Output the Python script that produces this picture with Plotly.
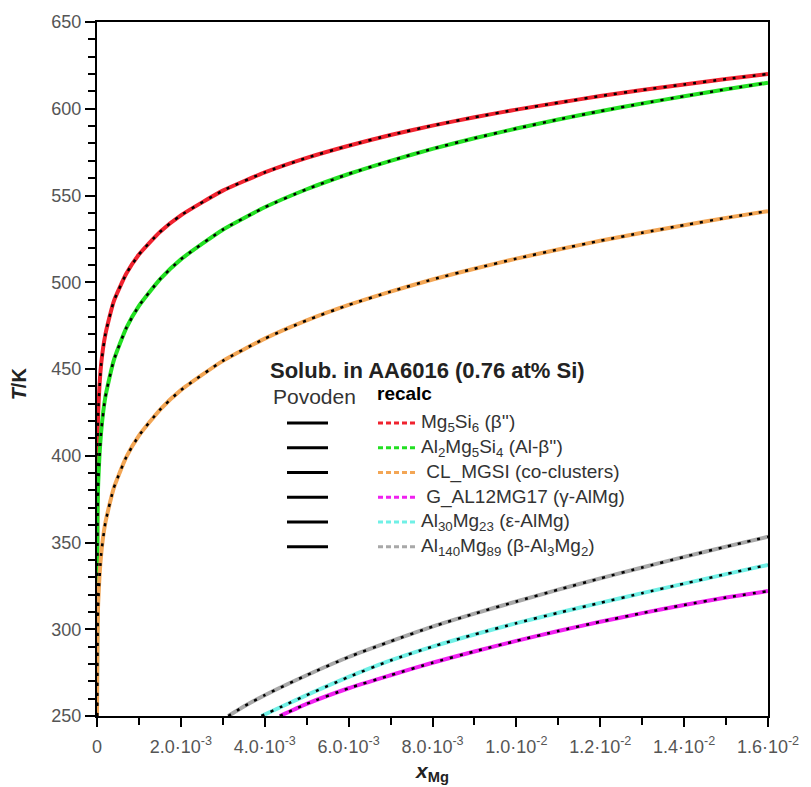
import plotly.graph_objects as go

# ---------------- data (read/estimated from the reference) ----------------
mg5si6_x = [0, 1e-5, 3e-5, 1e-4, 2e-4, 4e-4, 7e-4, 1e-3, 1.5e-3, 2e-3, 3e-3, 4e-3, 5e-3,
            6e-3, 7e-3, 8e-3, 9e-3, 1e-2, 1.1e-2, 1.2e-2, 1.3e-2, 1.4e-2, 1.5e-2, 1.6e-2]
mg5si6_T = [250, 404, 426, 453, 470, 489, 505, 516, 529, 538.6, 552.8, 563.3, 571.7,
            578.7, 584.9, 590.3, 595.1, 599.5, 603.5, 607.3, 610.8, 614, 617.1, 620]

al2mg5si4_x = [0, 1e-5, 3e-5, 1e-4, 2e-4, 4e-4, 7e-4, 1e-3, 1.5e-3, 2e-3, 3e-3, 4e-3, 5e-3,
               6e-3, 7e-3, 8e-3, 9e-3, 1e-2, 1.1e-2, 1.2e-2, 1.3e-2, 1.4e-2, 1.5e-2, 1.6e-2]
al2mg5si4_T = [250, 361, 385, 414, 434, 455, 473.7, 486.4, 501.7, 513.2, 530.3, 543.2, 553.6,
               562.4, 570, 576.9, 583, 588.6, 593.8, 598.6, 603, 607.2, 611.2, 615]

clmgsi_x = [0, 1e-6, 3e-6, 1e-5, 3e-5, 1e-4, 2e-4, 4e-4, 7e-4, 1e-3, 1.5e-3, 2e-3, 3e-3, 4e-3,
            5e-3, 6e-3, 7e-3, 8e-3, 9e-3, 1e-2, 1.1e-2, 1.2e-2, 1.3e-2, 1.4e-2, 1.5e-2, 1.6e-2]
clmgsi_T = [250, 258, 274, 294.5, 316, 343.4, 361.4, 381.4, 399.3, 411.6, 426.5, 437.8, 454.7, 467.5,
            478, 486.9, 494.6, 501.6, 507.8, 513.6, 518.9, 523.9, 528.5, 532.9, 537.1, 541]

gal12mg17_x = [4.36e-3, 5e-3, 6e-3, 7e-3, 8e-3, 9e-3, 1e-2, 1.1e-2, 1.2e-2, 1.3e-2, 1.4e-2, 1.5e-2, 1.6e-2]
gal12mg17_T = [250, 257, 266, 273.5, 280.7, 287.2, 293.3, 299, 304.3, 309.3, 314, 318.3, 322]

al30mg23_x = [3.92e-3, 4.5e-3, 5e-3, 6e-3, 7e-3, 8e-3, 9e-3, 1e-2, 1.1e-2, 1.2e-2, 1.3e-2, 1.4e-2, 1.5e-2, 1.6e-2]
al30mg23_T = [250, 256.5, 262, 272.5, 282, 290, 297, 303.5, 309.5, 315.2, 320.8, 326.3, 331.8, 337.1]

al140mg89_x = [3.13e-3, 3.5e-3, 4e-3, 5e-3, 6e-3, 7e-3, 8e-3, 9e-3, 1e-2, 1.1e-2, 1.2e-2, 1.3e-2, 1.4e-2, 1.5e-2, 1.6e-2]
al140mg89_T = [250, 255.5, 262, 273.5, 284, 293, 301.5, 309, 316, 322.8, 329.3, 335.6, 341.7, 347.6, 353.3]

x_tickvals = [0, 0.002, 0.004, 0.006, 0.008, 0.010, 0.012, 0.014, 0.016]
x_ticktext = ["0", "2.0·10<sup>-3</sup>", "4.0·10<sup>-3</sup>", "6.0·10<sup>-3</sup>",
              "8.0·10<sup>-3</sup>", "1.0·10<sup>-2</sup>", "1.2·10<sup>-2</sup>",
              "1.4·10<sup>-2</sup>", "1.6·10<sup>-2</sup>"]

legend_labels = ["Mg<sub>5</sub>Si<sub>6</sub> (β'')",
                 "Al<sub>2</sub>Mg<sub>5</sub>Si<sub>4</sub> (Al-β'')",
                 " CL_MGSI (co-clusters)",
                 " G_AL12MG17 (γ-AlMg)",
                 "Al<sub>30</sub>Mg<sub>23</sub> (ε-AlMg)",
                 "Al<sub>140</sub>Mg<sub>89</sub> (β-Al<sub>3</sub>Mg<sub>2</sub>)"]

series = [
    (mg5si6_x, mg5si6_T, "#f0222e"),
    (al2mg5si4_x, al2mg5si4_T, "#22e022"),
    (clmgsi_x, clmgsi_T, "#f3a655"),
    (gal12mg17_x, gal12mg17_T, "#f020f0"),
    (al30mg23_x, al30mg23_T, "#70f0e6"),
    (al140mg89_x, al140mg89_T, "#a8a8a8"),
]

FONT = "Liberation Sans"

fig = go.Figure()
# recalc (coloured)
for (xs, ts, col), lab in zip(series, legend_labels):
    fig.add_trace(go.Scatter(x=xs, y=ts, mode="lines", name=lab, showlegend=False,
                             line=dict(color=col, width=4, shape="spline", smoothing=0.5)))
# Povoden (black dotted on top)
for (xs, ts, col), lab in zip(series, legend_labels):
    fig.add_trace(go.Scatter(x=xs, y=ts, mode="lines", name="Povoden " + lab, showlegend=False,
                             line=dict(color="black", width=2.5, dash="3px,7px",
                                       shape="spline", smoothing=0.5)))

# ---------------- custom legend ----------------
def px2paper_x(px):
    return (px - 97) / 671.0

def py2paper_y(py):
    return (716 - py) / 701.0

shapes = []
annotations = []
annotations.append(dict(x=px2paper_x(268), y=py2paper_y(367), xref="paper", yref="paper",
                        xanchor="left", yanchor="middle", showarrow=False,
                        text="<b>Solub. in AA6016 (0.76 at% Si)</b>",
                        font=dict(size=22, color="#222", family=FONT)))
annotations.append(dict(x=px2paper_x(271), y=py2paper_y(393), xref="paper", yref="paper",
                        xanchor="left", yanchor="middle", showarrow=False,
                        text="Povoden", font=dict(size=21, color="#333", family=FONT)))
annotations.append(dict(x=px2paper_x(375), y=py2paper_y(390), xref="paper", yref="paper",
                        xanchor="left", yanchor="middle", showarrow=False,
                        text="<b>recalc</b>", font=dict(size=19, color="#000", family=FONT)))
row_y = [420, 445, 470, 495, 520, 545]
for (xs, ts, col), lab, ry in zip(series, legend_labels, row_y):
    yp = py2paper_y(ry)
    shapes.append(dict(type="line", xref="paper", yref="paper",
                       x0=px2paper_x(287), x1=px2paper_x(328), y0=yp, y1=yp,
                       line=dict(color="black", width=3)))
    shapes.append(dict(type="line", xref="paper", yref="paper",
                       x0=px2paper_x(378), x1=px2paper_x(416), y0=yp, y1=yp,
                       line=dict(color=col, width=3, dash="5px,3px")))
    annotations.append(dict(x=px2paper_x(419), y=yp, xref="paper", yref="paper",
                            xanchor="left", yanchor="middle", showarrow=False,
                            text=lab, font=dict(size=19, color="#333", family=FONT)))

# axis titles
annotations.append(dict(x=px2paper_x(19), y=py2paper_y(381), xref="paper", yref="paper",
                        xanchor="center", yanchor="middle", showarrow=False, textangle=-90,
                        text="<b><i>T</i>/K</b>", font=dict(size=20, color="#222", family=FONT)))
annotations.append(dict(x=px2paper_x(432), y=py2paper_y(773), xref="paper", yref="paper",
                        xanchor="center", yanchor="middle", showarrow=False,
                        text="<b><i>x</i><sub>Mg</sub></b>", font=dict(size=21, color="#222", family=FONT)))

fig.update_layout(
    width=811, height=787,
    margin=dict(l=97, r=43, t=15, b=71, pad=0),
    paper_bgcolor="white", plot_bgcolor="white",
    font=dict(family=FONT, color="#444"),
    shapes=shapes, annotations=annotations,
    showlegend=False,
)
fig.update_xaxes(range=[0, 0.016], tickvals=x_tickvals, ticktext=x_ticktext,
                 showgrid=False, zeroline=False, showline=True, mirror=True,
                 linecolor="black", linewidth=2, ticks="outside", ticklen=9, tickwidth=2,
                 tickcolor="black", tickfont=dict(size=18, color="#555"), ticklabelstandoff=4,
                 minor=dict(dtick=0.001, tick0=0, ticks="outside", ticklen=7, tickwidth=2,
                            tickcolor="black", showgrid=False))
fig.update_yaxes(range=[250, 650], dtick=50, tick0=250,
                 showgrid=False, zeroline=False, showline=True, mirror=True,
                 linecolor="black", linewidth=2, ticks="outside", ticklen=10, tickwidth=2,
                 tickcolor="black", tickfont=dict(size=18, color="#555"),
                 minor=dict(dtick=10, tick0=250, ticks="outside", ticklen=7, tickwidth=2,
                            tickcolor="black", showgrid=False))

fig.write_html("out.html")
